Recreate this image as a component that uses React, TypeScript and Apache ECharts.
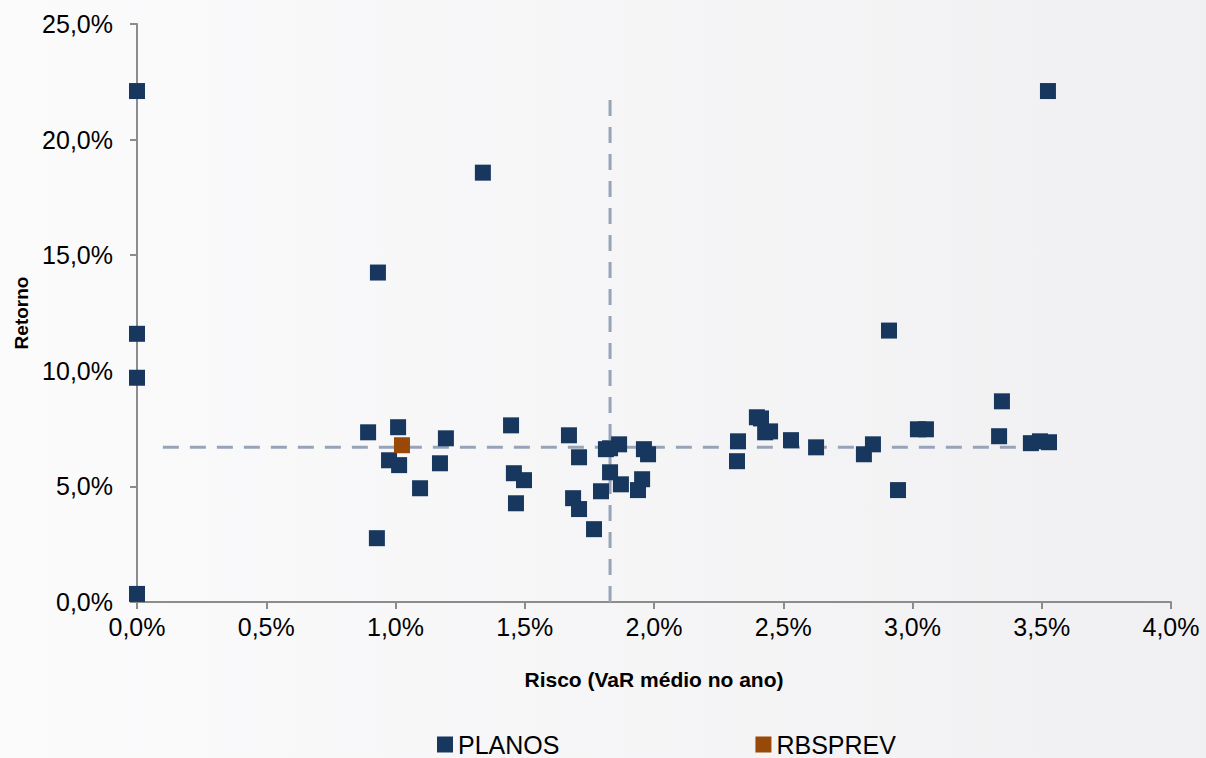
import React, { useEffect, useRef } from "react";
import * as echarts from "echarts";

const planosRisk = [
  0, 0, 0, 0, 3.524, 1.338, 0.932, 2.909, 3.346, 0.894, 1.01, 1.195, 0.975, 1.014, 1.172, 1.095, 0.928,
  1.447, 1.458, 1.497, 1.466, 1.671, 1.71, 1.687, 1.71, 1.768, 1.814, 1.83, 1.865, 1.83, 1.795, 1.872,
  1.961, 1.977, 1.954, 1.938, 2.325, 2.321, 2.398, 2.414, 2.43, 2.449, 2.53, 2.627, 2.812, 2.847, 2.944,
  3.021, 3.052, 3.335, 3.458, 3.493, 3.528,
];
const planosReturn = [
  22.1, 11.6, 9.7, 0.35, 22.1, 18.57, 14.25, 11.74, 8.68, 7.34, 7.56, 7.08, 6.13, 5.92, 6.0, 4.92, 2.76,
  7.64, 5.57, 5.27, 4.27, 7.21, 6.26, 4.49, 4.02, 3.15, 6.61, 6.65, 6.82, 5.61, 4.79, 5.09,
  6.61, 6.39, 5.31, 4.84, 6.95, 6.09, 7.99, 7.94, 7.34, 7.38, 7.0, 6.69, 6.39, 6.82, 4.84,
  7.47, 7.47, 7.17, 6.87, 6.95, 6.91,
];
const rbsRisk = [1.025];
const rbsReturn = [6.78];

const avgRisk = 1.83;
const avgReturn = 6.69;
const vLineRange = [0, 21.9];
const hLineRange = [0.1, 3.5];

const xTicks = { min: 0, max: 4, interval: 0.5 };
const yTicks = { min: 0, max: 25, interval: 5 };

const FONT = "'Liberation Sans', Arial, sans-serif";

export default function App() {
  const ref = useRef<HTMLDivElement>(null);
  useEffect(() => {
    if (!ref.current) return;
    const chart = echarts.init(ref.current, undefined, { renderer: "svg" });
    const fmt = (v: number) => v.toFixed(1).replace(".", ",") + "%";
    const dashStyle = { color: "#97a4b8", width: 3, type: [16, 11] as any };
    chart.setOption({
      animation: false,
      backgroundColor: new echarts.graphic.LinearGradient(0, 0, 1, 0, [
        { offset: 0, color: "#fbfbfc" },
        { offset: 1, color: "#f0f0f2" },
      ]),
      textStyle: { fontFamily: FONT },
      grid: { left: 137, right: 35, top: 24, bottom: 156, containLabel: false },
      legend: {
        left: 432,
        top: 727,
        itemGap: 196,
        itemWidth: 16,
        itemHeight: 16,
        icon: "rect",
        data: ["PLANOS", "RBSPREV"],
        textStyle: { fontSize: 25, color: "#000", fontFamily: FONT, lineHeight: 24 },
      },
      xAxis: {
        type: "value",
        min: xTicks.min,
        max: xTicks.max,
        interval: xTicks.interval,
        name: "Risco (VaR médio no ano)",
        nameLocation: "middle",
        nameGap: 67,
        nameTextStyle: { fontSize: 21, fontWeight: "bold", color: "#000", fontFamily: FONT },
        axisLine: { show: true, lineStyle: { color: "#8c8c8c", width: 2 } },
        axisTick: { show: true, length: 7, lineStyle: { color: "#8c8c8c", width: 2 } },
        axisLabel: { fontSize: 25, color: "#000", margin: 12, formatter: fmt, fontFamily: FONT },
        splitLine: { show: false },
      },
      yAxis: {
        type: "value",
        min: yTicks.min,
        max: yTicks.max,
        interval: yTicks.interval,
        name: "Retorno",
        nameLocation: "middle",
        nameGap: 106,
        nameRotate: 90,
        nameTextStyle: { fontSize: 19, fontWeight: "bold", color: "#000", fontFamily: FONT },
        axisLine: { show: true, lineStyle: { color: "#8c8c8c", width: 2 } },
        axisTick: { show: true, length: 7, lineStyle: { color: "#8c8c8c", width: 2 } },
        axisLabel: { fontSize: 25, color: "#000", margin: 24, formatter: fmt, fontFamily: FONT },
        splitLine: { show: false },
      },
      series: [
        {
          name: "avgV",
          type: "line",
          data: [
            [avgRisk, vLineRange[0]],
            [avgRisk, vLineRange[1]],
          ],
          symbol: "none",
          lineStyle: dashStyle,
          z: 1,
          silent: true,
        },
        {
          name: "avgH",
          type: "line",
          data: [
            [hLineRange[0], avgReturn],
            [hLineRange[1], avgReturn],
          ],
          symbol: "none",
          lineStyle: dashStyle,
          z: 1,
          silent: true,
        },
        {
          name: "PLANOS",
          type: "scatter",
          symbol: "rect",
          symbolSize: 16,
          itemStyle: { color: "#17375e", opacity: 1 },
          data: planosRisk.map((x, i) => [x, planosReturn[i]]),
          z: 3,
        },
        {
          name: "RBSPREV",
          type: "scatter",
          symbol: "rect",
          symbolSize: 16,
          itemStyle: { color: "#984807", opacity: 1 },
          data: rbsRisk.map((x, i) => [x, rbsReturn[i]]),
          z: 4,
        },
      ],
    });
    return () => chart.dispose();
  }, []);
  return (
    <div
      ref={ref}
      style={{ position: "fixed", left: 0, top: 0, width: 1206, height: 758 }}
    />
  );
}
